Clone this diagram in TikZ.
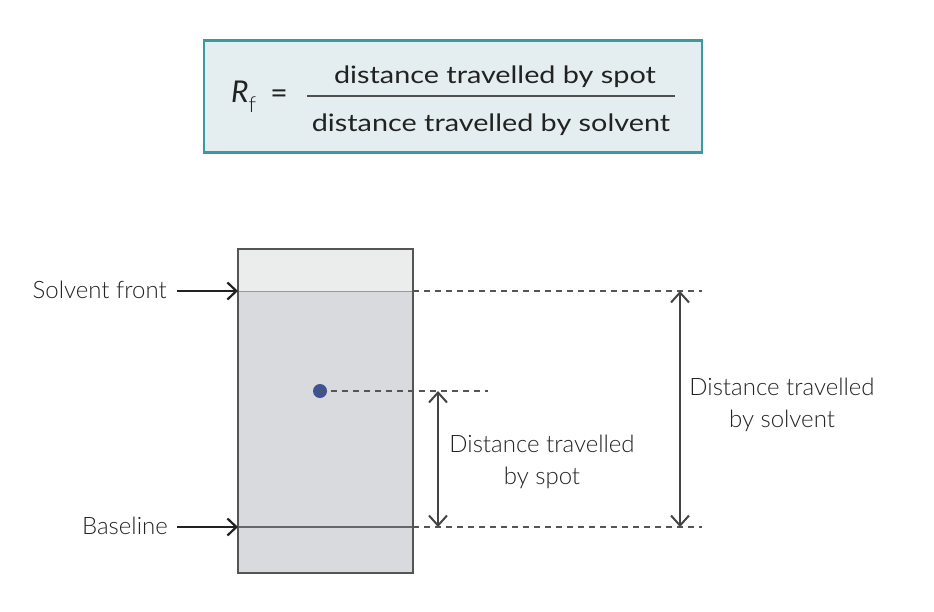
\documentclass[tikz,border=0pt]{standalone}
\usepackage{fontspec}
\setmainfont{Lato}
\newfontfamily\labelfont{Lato Light}
\newfontfamily\formfont{Lato}[FakeStretch=1.2]
\usetikzlibrary{arrows.meta}
\definecolor{boxedge}{HTML}{3A9A9E}
\definecolor{boxfill}{HTML}{E4EEF1}
\definecolor{platetop}{HTML}{EBECEC}
\definecolor{platefill}{HTML}{D9DADD}
\definecolor{plateedge}{HTML}{555555}
\definecolor{spotcol}{HTML}{3E5490}
\definecolor{inkcol}{HTML}{222222}
\tikzset{
  lbl/.style={font=\labelfont\fontsize{24}{32}\selectfont, text=inkcol, inner sep=0pt, align=center},
  ptr/.style={draw=inkcol, line width=2pt, -{Straight Barb[length=9pt,width=17pt,line width=2.2pt]}},
  dim/.style={draw=inkcol!85, line width=1.6pt, {Straight Barb[length=10pt,width=18pt,line width=2pt]}-{Straight Barb[length=10pt,width=18pt,line width=2pt]}},
  guide/.style={draw=plateedge, line width=1.2pt, dash pattern=on 6pt off 5pt},
  formtxt/.style={font=\formfont\fontsize{24}{28}\selectfont, text=inkcol, inner sep=0pt},
}
\begin{document}
\begin{tikzpicture}[x=1pt,y=-1pt]
\useasboundingbox (0,0) rectangle (934,611);
% formula box
\node[draw=boxedge, line width=2.4pt, fill=boxfill, minimum width=498pt, minimum height=112pt, inner sep=0pt] (formula) at (453,96.5) {};
\node[formtxt, anchor=base] (num) at (495,83) {distance travelled by spot};
\node[formtxt, anchor=base] (den) at (491,131) {distance travelled by solvent};
\draw[inkcol!80, line width=1.3pt] (307,96) -- (675,96);
\node[font=\fontsize{30}{32}\selectfont, text=inkcol, inner sep=0pt, anchor=base west] (rf) at (231,102) {\textit{R}\raisebox{-10pt}{\labelfont\fontsize{22}{22}\selectfont f}};
\node[font=\fontsize{30}{32}\selectfont, text=inkcol, inner sep=0pt] (eq) at (279,97) {=};
% plate
\fill[platefill] (238,249) rectangle (413,573);
\fill[platetop] (238,249) rectangle (413,291);
\draw[plateedge!60, line width=0.6pt] (238,291) -- (413,291);
\draw[plateedge!90, line width=1.3pt] (238,527) -- (413,527);
\node[draw=plateedge, line width=2pt, minimum width=175pt, minimum height=324pt, inner sep=0pt] (plate) at (325.5,411) {};
% coordinates
\coordinate (front) at (238,291);
\coordinate (frontR) at (413,291);
\coordinate (base) at (238,527);
\coordinate (baseR) at (413,527);
\coordinate (frontEnd) at (702,291);
\coordinate (baseEnd) at (702,527);
\coordinate (spotEnd) at (488,391);
\coordinate (spotTop) at (438,391);
\coordinate (spotBot) at (438,527);
\coordinate (solvTop) at (680,291);
\coordinate (solvBot) at (680,527);
% spot
\node[circle, fill=spotcol, minimum size=14pt, inner sep=0pt] (spot) at (320,391) {};
% guides
\draw[guide] (frontR) -- (frontEnd);
\draw[guide] (baseR) -- (baseEnd);
\draw[guide] (spot.center) -- (spotEnd);
% labels
\node[lbl, anchor=base east] (sf) at (167,298) {Solvent front};
\node[lbl, anchor=base east] (bl) at (168,534) {Baseline};
\draw[ptr] (sf.east |- front) ++(10,0) coordinate (sfs) (sfs) -- (front);
\draw[ptr] (bl.east |- base) ++(9,0) coordinate (bls) (bls) -- (base);
% dimension arrows
\draw[dim] (spotTop) -- (spotBot);
\draw[dim] (solvTop) -- (solvBot);
\node[lbl, anchor=base] (dspot) at (542,484) {Distance travelled\\by spot};
\node[lbl, anchor=base] (dsolv) at (782,427) {Distance travelled\\by solvent};
\end{tikzpicture}
\end{document}
